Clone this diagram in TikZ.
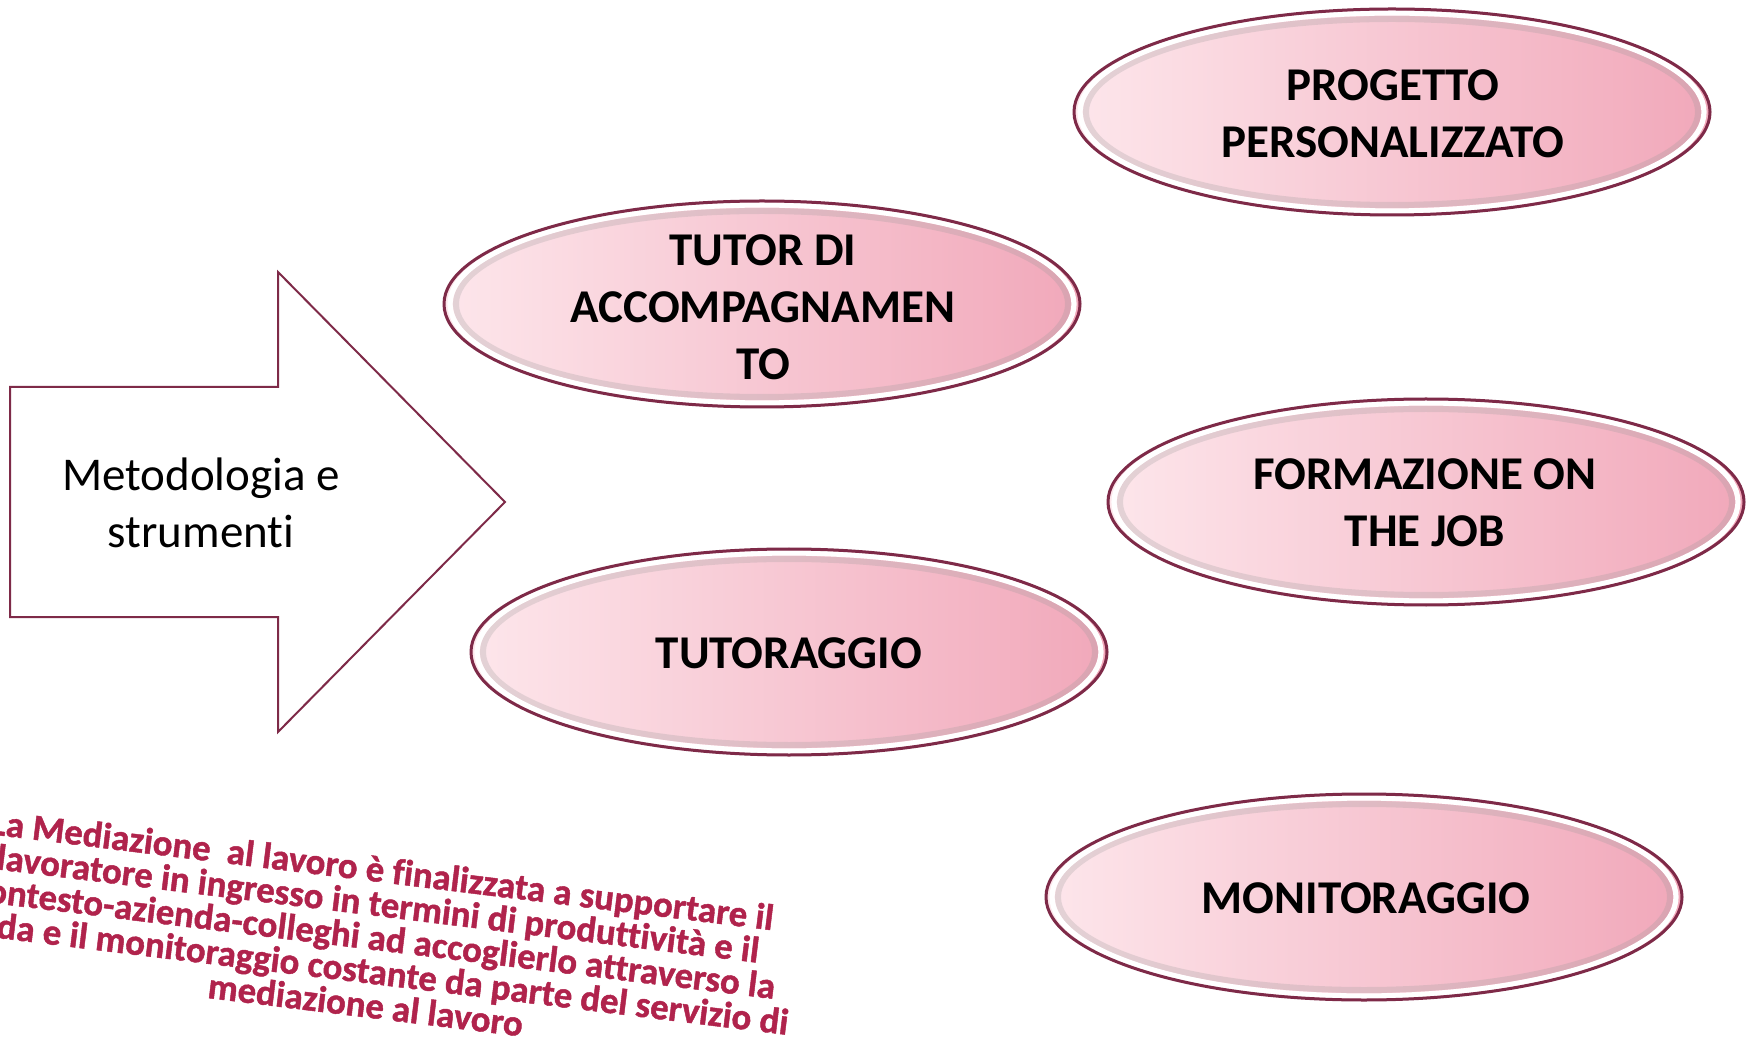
\documentclass[tikz,border=0pt]{standalone}
\usepackage{fontspec}
\setmainfont{Carlito}[Ligatures=NoCommon]
\newfontfamily\medfont{Carlito}[Ligatures=NoCommon, BoldFeatures={FakeBold=1.2}]
\usetikzlibrary{shapes.geometric}
\definecolor{maroon}{HTML}{7E2A48}
\definecolor{pinkL}{HTML}{FDE6EB}
\definecolor{pinkR}{HTML}{F1A8BA}
\definecolor{crim}{HTML}{B0234C}
\begin{document}
\begin{tikzpicture}[x=0.5pt,y=-0.5pt,
  pill/.style={ellipse, minimum width=318pt, minimum height=103pt, inner sep=0pt,
    left color=pinkL, right color=pinkR, draw=maroon, line width=1.5pt,
    path picture={
      \draw[black!40, line width=3pt, opacity=0.25] (path picture bounding box.center) ellipse [x radius=153pt, y radius=46.5pt];
      \draw[white, line width=2.6pt] (path picture bounding box.center) ellipse [x radius=156pt, y radius=49.5pt];
    }},
  lbl/.style={font=\bfseries\fontsize{23.5}{28.5}\selectfont, align=center, text=black},
  arrowtxt/.style={font=\fontsize{23.5}{28.5}\selectfont, align=center, text=black},
  medtxt/.style={font=\medfont\bfseries\fontsize{18.4}{17}\selectfont, align=center, text=crim, rotate=-7}
]
\useasboundingbox (0,0) rectangle (1750,1042);
\fill[white] (0,0) rectangle (1750,1042);

% big arrow
\draw[draw=maroon, line width=1pt, fill=white, line join=miter]
  (10,387) -- (278,387) -- (278,272) -- (505,502) -- (278,732) -- (278,617) -- (10,617) -- cycle;
\node[arrowtxt] (met) at (201,503) {Metodologia e\\strumenti};

% ellipses
\node[pill] (prog) at (1392,112) {};
\node[lbl] (prog-t) at (1393,114) {PROGETTO\\PERSONALIZZATO};

\node[pill] (tut) at (762,304) {};
\node[lbl] (tut-t) at (763,307) {TUTOR DI\\ACCOMPAGNAMEN\\TO};

\node[pill] (form) at (1426,502) {};
\node[lbl] (form-t) at (1425,503) {FORMAZIONE ON\\THE JOB};

\node[pill] (tuto) at (789,652) {};
\node[lbl] (tuto-t) at (789,653) {TUTORAGGIO};

\node[pill] (mon) at (1364,897) {};
\node[lbl] (mon-t) at (1366,898) {MONITORAGGIO};

% rotated text
\begin{scope}
\clip (0,0) rectangle (1750,1042);
\node[medtxt] (med) at (374,937) {La Mediazione\ \ al lavoro è finalizzata a supportare il\\
lavoratore in ingresso in termini di produttività e il\\
contesto-azienda-colleghi ad accoglierlo attraverso la\\
guida e il monitoraggio costante da parte del servizio di\\
mediazione al lavoro};
\end{scope}
\end{tikzpicture}
\end{document}
